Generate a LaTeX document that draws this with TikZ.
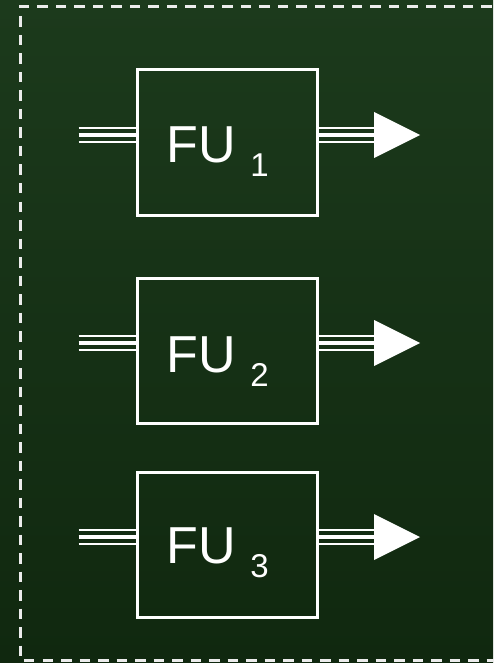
\documentclass[tikz,border=0pt]{standalone}
\usepackage{fontspec}
\setmainfont{Liberation Sans}
\usetikzlibrary{positioning}

\definecolor{boardtop}{RGB}{28,58,28}
\definecolor{boardbottom}{RGB}{16,40,15}
\definecolor{chalk}{RGB}{236,236,236}

\begin{document}
\begin{tikzpicture}[
        x=1pt, y=1pt,
        unit/.style={rectangle, draw=white, line width=3pt, minimum width=180pt, minimum height=145pt, inner sep=0pt},
        unitlabel/.style={text=white, inner sep=0pt, anchor=base west, font=\fontsize{52}{52}\selectfont},
        bus/.style={draw=white, line width=4pt,
            preaction={draw=white, line width=2.5pt, transform canvas={yshift=7pt}},
            postaction={draw=white, line width=2.5pt, transform canvas={yshift=-7pt}}},
        head/.style={fill=white}
    ]
        % board and frame
        \useasboundingbox (0,0) rectangle (493,-663);
        \shade[top color=boardtop, bottom color=boardbottom] (0,0) rectangle (493,-663);
        \draw[chalk, line width=3pt, dash pattern=on 10.5pt off 8pt] (510,-6.5) -- (20.5,-6.5) -- (20.5,-660.5) -- (510,-660.5);

        % functional units
        \node[unit] (fu1) at (227.5,-142.5) {};
        \node[unit, below=60pt of fu1] (fu2) {};
        \node[unit, below=46pt of fu2] (fu3) {};

        \node[unitlabel] (lab1) at ([xshift=-61pt, yshift=-20pt]fu1.center) {FU \raisebox{-14pt}{\fontsize{33}{33}\selectfont 1}};
        \node[unitlabel] (lab2) at ([xshift=-61pt, yshift=-22pt]fu2.center) {FU \raisebox{-14pt}{\fontsize{33}{33}\selectfont 2}};
        \node[unitlabel] (lab3) at ([xshift=-61pt, yshift=-19pt]fu3.center) {FU \raisebox{-14pt}{\fontsize{33}{33}\selectfont 3}};

        % inputs
        \coordinate (in1) at ([xshift=-57.5pt, yshift=7.5pt]fu1.west);
        \coordinate (in2) at ([xshift=-57.5pt, yshift=7.5pt]fu2.west);
        \coordinate (in3) at ([xshift=-57.5pt, yshift=7.5pt]fu3.west);
        \draw[bus] (in1) -- (in1 -| fu1.west);
        \draw[bus] (in2) -- (in2 -| fu2.west);
        \draw[bus] (in3) -- (in3 -| fu3.west);

        % outputs
        \coordinate (out1) at ([xshift=55pt, yshift=7.5pt]fu1.east);
        \coordinate (out2) at ([xshift=55pt, yshift=7.5pt]fu2.east);
        \coordinate (out3) at ([xshift=55pt, yshift=7.5pt]fu3.east);
        \draw[bus] (out1 -| fu1.east) -- (out1);
        \draw[bus] (out2 -| fu2.east) -- (out2);
        \draw[bus] (out3 -| fu3.east) -- (out3);
        \fill[head] (out1) -- ++(0,23) -- ++(46,-23) -- ++(-46,-23) -- cycle;
        \fill[head] (out2) -- ++(0,23) -- ++(46,-23) -- ++(-46,-23) -- cycle;
        \fill[head] (out3) -- ++(0,23) -- ++(46,-23) -- ++(-46,-23) -- cycle;
    \end{tikzpicture}
\end{document}
